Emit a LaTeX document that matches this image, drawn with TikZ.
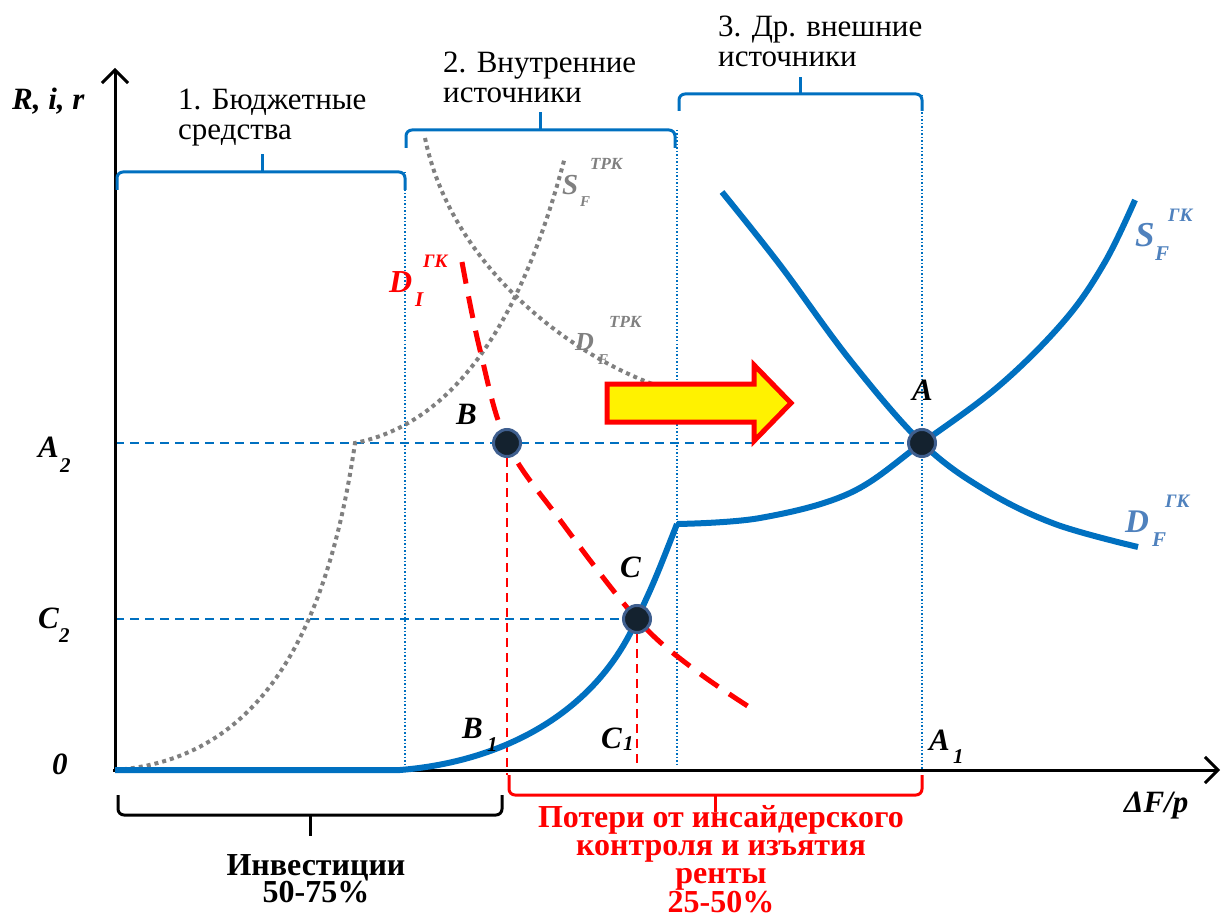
\documentclass[tikz,border=0pt]{standalone}
\usepackage{fontspec}
\setmainfont{Liberation Serif}
\usetikzlibrary{arrows.meta}
\definecolor{blueC}{HTML}{0070C0}
\definecolor{labblue}{HTML}{4F81BD}
\definecolor{grayC}{HTML}{808080}
\definecolor{ptfill}{HTML}{14222F}
\definecolor{ptdraw}{HTML}{3F5F8F}
\begin{document}
\begin{tikzpicture}[x=1pt,y=-1pt,
  txt/.style={inner sep=0pt,anchor=north west,align=left,font=\fontsize{31}{30}\selectfont},
  btxt/.style={inner sep=0pt,anchor=north,align=center,font=\fontsize{32}{28}\selectfont\bfseries},
  lab/.style={inner sep=0pt,anchor=base west,font=\fontsize{31}{32}\selectfont\bfseries\itshape},
  sub/.style={inner sep=0pt,anchor=base west,font=\fontsize{21}{22}\selectfont\bfseries\itshape},
  sup/.style={inner sep=0pt,anchor=base west,font=\fontsize{19}{20}\selectfont\bfseries\itshape},
  axis/.style={line width=3pt,-{Straight Barb[length=13pt,width=26pt,line width=3pt]}},
  vdot/.style={blueC,line width=1.5pt,dash pattern=on 1.5pt off 2pt},
  hdash/.style={blueC,line width=1.5pt,dash pattern=on 9pt off 6pt},
  rdash/.style={red,line width=2pt,dash pattern=on 9pt off 6pt},
  gdot/.style={grayC,line width=4pt,dash pattern=on 4pt off 4pt},
  bcurve/.style={blueC,line width=6pt},
  brace/.style={line width=3pt,rounded corners=6pt},
  pt/.style={circle,fill=ptfill,draw=ptdraw,line width=3pt,minimum size=27pt,inner sep=0pt}
]
\useasboundingbox (0,0) rectangle (1221,917);

% guide lines
\draw[vdot] (405,172) -- (405,770);
\draw[vdot] (677,130) -- (677,765);
\draw[vdot] (922,95) -- (922,770);
\draw[hdash] (115,443) -- (922,443);
\draw[hdash] (115,619) -- (637,619);
\draw[rdash] (507,443) -- (507,775);
\draw[rdash] (637,619) -- (637,770);

% gray dotted curves
\draw[gdot] (115,770) .. controls (250,760) and (325,650) .. (355,443)
            .. controls (470,420) and (530,290) .. (565,157);
\draw[gdot] (425,138) .. controls (450,260) and (560,350) .. (655,385);

% red dashed demand
\draw[red,line width=5pt,dash pattern=on 22pt off 13pt]
  plot[smooth,tension=0.6] coordinates {(462,262) (480,350) (507,443) (560,520) (637,619) (695,670) (757,712)};

% axes
\draw[axis] (115,772) -- (115,68);
\draw[axis] (113,770) -- (1220,770);

% blue supply curve
\draw[bcurve,line join=round] (115,770) -- (400,770) .. controls (500,762) and (595,715) .. (637,619)
   .. controls (655,580) .. (677,524)
   plot[smooth,tension=0.6] coordinates {(677,524) (760,518) (850,493) (922,443) (1000,385) (1065,320) (1105,262) (1135,200)};
% blue demand curve
\draw[bcurve] plot[smooth,tension=0.6] coordinates {(722,192) (780,265) (850,360) (922,443) (985,490) (1055,524) (1138,547)};

% yellow arrow
\draw[red,line width=5pt,fill=yellow,line join=miter]
  (607,384) -- (754,384) -- (754,365) -- (791,403) -- (754,441) -- (754,422) -- (607,422) -- cycle;

% points
\node[pt] (B) at (507,443) {};
\node[pt] (C) at (637,619) {};
\node[pt] (A) at (922,443) {};

% top braces
\draw[blueC,brace] (117,190) -- (117,172) -- (405,172) -- (405,190);
\draw[blueC,line width=3pt] (262,172) -- (262,154);
\draw[blueC,brace] (406,148) -- (406,130) -- (675,130) -- (675,148);
\draw[blueC,line width=3pt] (540,130) -- (540,112);
\draw[blueC,brace] (679,111) -- (679,94) -- (922,94) -- (922,111);
\draw[blueC,line width=3pt] (800,94) -- (800,77);

% bottom braces
\draw[black,brace] (118,795) -- (118,815) -- (502,815) -- (502,795);
\draw[black,line width=3pt] (310,815) -- (310,836);
\draw[red,brace] (509,775) -- (509,795) -- (922,795) -- (922,775);
\draw[red,line width=3pt] (715,795) -- (715,812);

% top texts
\node[txt] (t1) at (178,89) {1. Бюджетные\\средства};
\node[txt] (t2) at (443,52) {2. Внутренние\\источники};
\node[txt] (t3) at (718,16) {3. Др. внешние\\источники};

% axis labels
\node[lab] (ylab) at (12,110) {R, i, r};
\node[lab] (xlab) at (1124,812) {ΔF/p};
\node[lab] (zero) at (52,774) {0};
\node[lab] (A2) at (38,457) {A};
\node[sub] (A2s) at (60,472) {2};
\node[lab] (C2) at (38,628) {C};
\node[sub] (C2s) at (59,642) {2};

% point labels
\node[lab] (Bl) at (456,424) {B};
\node[lab] (Cl) at (620,577) {C};
\node[lab] (Al) at (912,400) {A};
\node[lab] (B1) at (462,738) {B};
\node[sub] (B1s) at (487,751) {1};
\node[lab] (C1) at (601,748) {C};
\node[sub] (C1s) at (623,750) {1};
\node[lab] (A1) at (929,750) {A};
\node[sub] (A1s) at (953,763) {1};

% curve labels
\node[lab,grayC,font=\fontsize{29}{30}\selectfont\bfseries\itshape] (SFt) at (562,195) {S};
\node[sub,grayC,font=\fontsize{15}{16}\selectfont\bfseries\itshape] (SFts) at (580,207) {F};
\node[sup,grayC,font=\fontsize{17}{18}\selectfont\bfseries\itshape] (SFtu) at (590,170) {ТРК};
\node[lab,grayC,font=\fontsize{26}{28}\selectfont\bfseries\itshape] (DFt) at (575,350) {D};
\node[sub,grayC,font=\fontsize{15}{16}\selectfont\bfseries\itshape] (DFts) at (598,364) {F};
\node[sup,grayC,font=\fontsize{17}{18}\selectfont\bfseries\itshape] (DFtu) at (609,327) {ТРК};
\node[lab,red,font=\fontsize{32}{34}\selectfont\bfseries\itshape] (DI) at (389,293) {D};
\node[sub,red] (DIs) at (415,307) {I};
\node[sup,red] (DIu) at (423,268) {ГК};
\node[lab,labblue,font=\fontsize{35}{36}\selectfont\bfseries\itshape] (SFg) at (1135,247) {S};
\node[sub,labblue] (SFgs) at (1155,261) {F};
\node[sup,labblue] (SFgu) at (1168,222) {ГК};
\node[lab,labblue,font=\fontsize{33}{34}\selectfont\bfseries\itshape] (DFg) at (1125,532) {D};
\node[sub,labblue] (DFgs) at (1152,546) {F};
\node[sup,labblue] (DFgu) at (1165,507) {ГК};

% bottom texts
\node[btxt,font=\fontsize{32}{27}\selectfont\bfseries] (inv) at (316,854) {Инвестиции\\50-75\%};
\node[btxt,red] (loss) at (721,805) {Потери от инсайдерского\\контроля и изъятия\\ренты\\25-50\%};
\end{tikzpicture}
\end{document}
